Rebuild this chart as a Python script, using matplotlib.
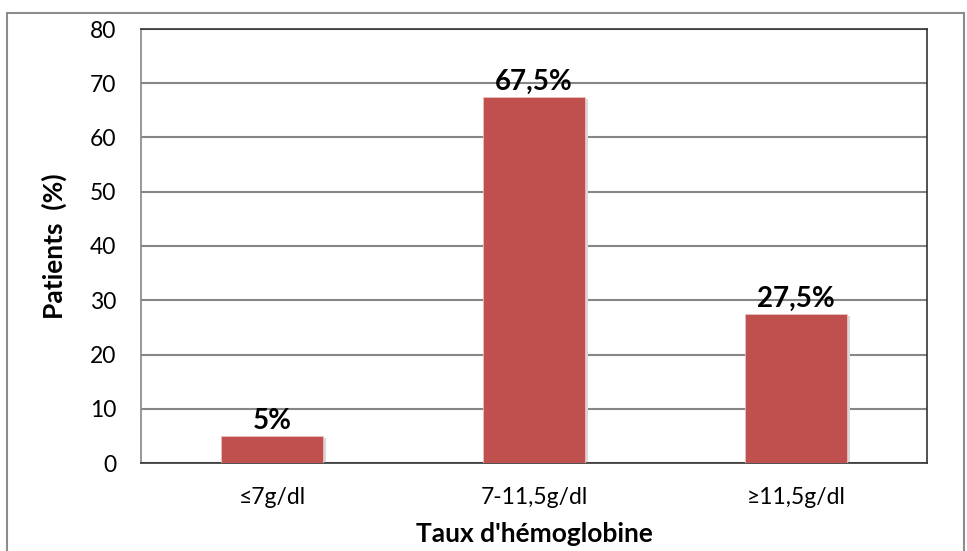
import matplotlib.pyplot as plt
from matplotlib.patches import Rectangle

# donnees
categories = ["≤7g/dl", "7-11,5g/dl", "≥11,5g/dl"]
valeurs = [5, 67.5, 27.5]
etiquettes = ["5%", "67,5%", "27,5%"]

plt.rcParams['font.family'] = ['Lato', 'DejaVu Sans']

fig = plt.figure(figsize=(9.67, 5.51), dpi=100)
ax = fig.add_axes([141/967, 1-463/551, 786/967, 434/551])

# cadre exterieur
fig.patches.append(Rectangle((7/967, -0.05), 957/967, 1.05-13/551, transform=fig.transFigure,
                             fill=False, edgecolor="#8c8c8c", lw=1.5))

x = range(len(categories))
# ombre legere
ax.bar([i + 0.012 for i in x], valeurs, width=0.39, color="#d8d8d8", zorder=2,
       bottom=-0.4)
ax.bar(x, valeurs, width=0.39, color="#C0504D", edgecolor="#e8c0bf", lw=0.6, zorder=3)

for i, v in enumerate(valeurs):
    ax.annotate(etiquettes[i], (i, v), xytext=(0, 7), textcoords="offset pixels",
                ha="center", va="baseline", fontsize=20, fontweight="bold", zorder=4)

ax.set_xlim(-0.5, 2.5)
ax.set_ylim(0, 80)
ax.set_yticks(range(0, 81, 10))
ax.set_xticks(list(x))
ax.set_xticklabels(categories)
ax.tick_params(axis="both", labelsize=16.5, length=0)
ax.tick_params(axis="x", pad=17)
ax.tick_params(axis="y", pad=18)
ax.yaxis.grid(True, color="#868686", lw=1.5, zorder=1)
ax.set_axisbelow(True)
for s in ax.spines.values():
    s.set_color("#333333")
    s.set_linewidth(1.2)
ax.spines["left"].set_color("#868686")

ax.set_xlabel("Taux d'hémoglobine", fontsize=19, fontweight="bold", labelpad=10)
ax.set_ylabel("Patients  (%)", fontsize=19, fontweight="bold", labelpad=16)

fig.savefig("out.png", dpi=100)
